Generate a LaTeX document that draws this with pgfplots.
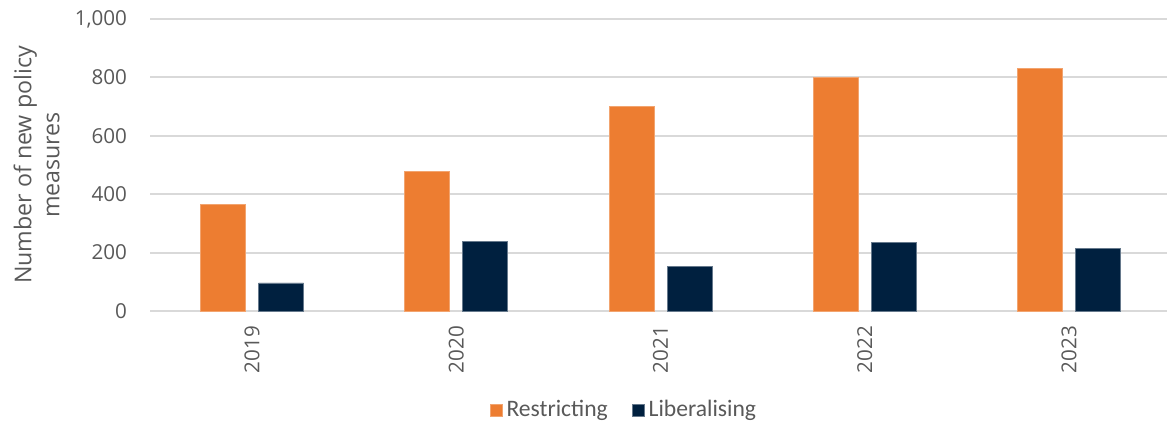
\documentclass[border=0pt]{standalone}
\usepackage{pgfplots}
\pgfplotsset{compat=1.18}
\usepackage{fontspec}
\setmainfont{Open Sans}
\newfontfamily\legfont{Carlito}
\definecolor{restr}{HTML}{ED7D31}
\definecolor{libe}{HTML}{00203F}
\definecolor{txt}{HTML}{595959}
\definecolor{gridc}{HTML}{D9D9D9}
\begin{document}
\begin{tikzpicture}[x=1pt,y=1pt]
\useasboundingbox (0,0) rectangle (583.5,211.5);
\begin{axis}[
  at={(75pt,56pt)}, anchor=south west,
  scale only axis, width=508.5pt, height=146pt,
  ybar=6.5pt, bar width=22.5pt,
  xmin=-0.5, xmax=4.48, ymin=0, ymax=1000,
  clip=false,
  xtick={0,1,2,3,4}, xticklabels={2019,2020,2021,2022,2023},
  ytick={0,200,400,600,800,1000},
  ymajorgrids, grid style={draw=gridc, line width=1pt},
  axis line style={draw=none},
  major tick length=0pt,
  /pgf/number format/.cd, 1000 sep={,}, assume math mode=true, /pgfplots/.cd,
  tick label style={font=\fontsize{10.3}{12}\selectfont, text=txt},
  xticklabel style={rotate=90, anchor=east},
  xticklabel shift=4pt,
  yticklabel shift=8pt,
  ylabel={Number of new policy\\measures},
  ylabel style={align=center, font=\fontsize{11.6}{14}\selectfont, text=txt,
    at={(axis description cs:-0.1115,0.5)}, anchor=center},
  legend style={at={(axis description cs:0.467,-0.339)}, anchor=center, draw=none,
    font=\legfont\fontsize{11.8}{13}\selectfont, text=txt,
    /tikz/every even column/.append style={column sep=10pt}},
  legend columns=2,
  legend image code/.code={\fill[#1] (0pt,-3pt) rectangle (6pt,3pt);},
]
\addplot[fill=restr, draw=restr!70!white, line width=0.4pt]
  coordinates {(0,366) (1,477) (2,700) (3,800) (4,830)};
\addlegendentry{Restricting}
\addplot[fill=libe, draw=libe!60!white, line width=0.4pt]
  coordinates {(0,96) (1,239) (2,153) (3,235) (4,215)};
\addlegendentry{Liberalising}
\end{axis}
\end{tikzpicture}
\end{document}
